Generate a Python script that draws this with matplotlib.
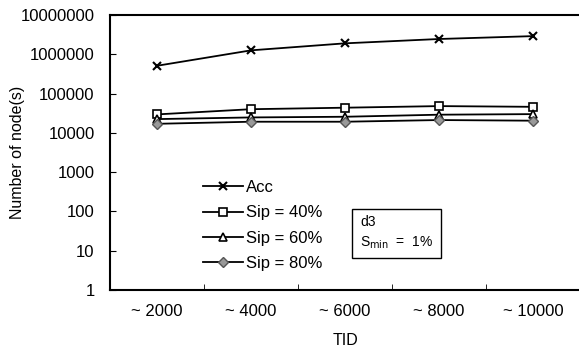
import matplotlib.pyplot as plt
from matplotlib.ticker import FixedLocator, NullFormatter

plt.rcParams['font.family'] = ['Liberation Sans', 'DejaVu Sans']

tid_labels = ["~ 2000", "~ 4000", "~ 6000", "~ 8000", "~ 10000"]
acc = [510000, 1260000, 1900000, 2450000, 2900000]
sip40 = [29500, 40000, 43700, 48000, 46000]
sip60 = [22400, 24700, 25700, 29000, 30000]
sip80 = [17000, 19200, 19200, 21200, 20400]

x = list(range(len(tid_labels)))

fig = plt.figure(figsize=(5.79, 3.56), dpi=100)
ax = fig.add_axes([110 / 579, 66 / 356, 1 - 110 / 579 + 0.002, 275 / 356])

ax.plot(x, acc, color='black', lw=1.3, marker='x', ms=6, mew=1.5, label='Acc')
ax.plot(x, sip40, color='black', lw=1.3, marker='s', ms=6, mfc='white', mew=1.2,
        label='Sip = 40%')
ax.plot(x, sip60, color='black', lw=1.3, marker='^', ms=6, mfc='white', mew=1.2,
        label='Sip = 60%')
ax.plot(x, sip80, color='black', lw=1.3, marker='D', ms=5, mfc='#999999', mec='#555555',
        mew=1.0, label='Sip = 80%')

ax.set_yscale('log')
ax.set_ylim(1, 1e7)
ax.set_xlim(-0.5, 4.5)
ax.yaxis.set_major_locator(FixedLocator([10 ** i for i in range(8)]))
ax.set_yticklabels([str(10 ** i) for i in range(8)])
ax.yaxis.set_minor_formatter(NullFormatter())
ax.tick_params(axis='y', which='minor', length=0)
ax.tick_params(axis='y', which='major', direction='in', length=4, labelsize=12, pad=11)

ax.set_xticks(x)
ax.set_xticklabels(tid_labels)
ax.tick_params(axis='x', which='major', length=0, labelsize=12, pad=10)
ax.set_xticks([0.5, 1.5, 2.5, 3.5], minor=True)
ax.tick_params(axis='x', which='minor', direction='in', length=4)

for s in ['left', 'bottom', 'top']:
    ax.spines[s].set_linewidth(1.5)
ax.spines['right'].set_visible(False)

ax.set_xlabel('TID', fontsize=11.5, labelpad=10)
ax.set_ylabel('Number of node(s)', fontsize=11.5)
ax.yaxis.set_label_coords(-0.18, 0.5)

ax.legend(loc='upper left', bbox_to_anchor=(0.18, 0.43), frameon=False, fontsize=12,
          handlelength=2.4, handletextpad=0.2, labelspacing=0.62, borderpad=0)

ax.text(0.532, 0.207, 'd3\nS$_{\\mathrm{min}}$  =  1%', transform=ax.transAxes, fontsize=10,
        va='center', ha='left', linespacing=1.4,
        bbox=dict(boxstyle='square,pad=0.55', fc='white', ec='black', lw=1.0))

fig.savefig('out.png', dpi=100)
